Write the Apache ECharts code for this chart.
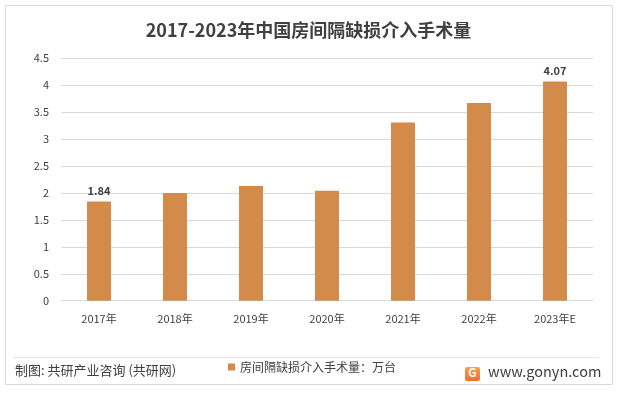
<!DOCTYPE html>
<html><head><meta charset="utf-8">
<script src="https://cdn.jsdelivr.net/npm/echarts@6/dist/echarts.min.js"></script>
<style>html,body{margin:0;padding:0;background:#fff}#c{width:617px;height:394px}</style>
</head><body><div id="c"></div>
<script>
const categories = ['2017年','2018年','2019年','2020年','2021年','2022年','2023年E'];
const values = [1.84, 2.00, 2.13, 2.04, 3.31, 3.67, 4.07];
const labelShown = [true, false, false, false, false, false, true];
const seriesName = '房间隔缺损介入手术量：万台';
const titleText = '2017-2023年中国房间隔缺损介入手术量';
const sourceText = '制图: 共研产业咨询 (共研网)';
const siteText = 'www.gonyn.com';

const FONT = '"Noto Sans CJK SC", "Noto Sans", sans-serif';
const chart = echarts.init(document.getElementById('c'), null, {renderer:'canvas'});
chart.setOption({
  animation:false,
  textStyle:{fontFamily:FONT},
  title:{text:titleText,left:'center',top:16,textStyle:{fontSize:18,fontWeight:'bold',color:'#404040',fontFamily:FONT}},
  grid:{left:61,right:24,top:58.3,bottom:93.3,containLabel:false},
  legend:{data:[seriesName],left:228,top:361,padding:0,itemWidth:7,itemHeight:7,itemGap:3,icon:'rect',
    textStyle:{fontSize:12,color:'#404040',fontFamily:FONT}},
  xAxis:{type:'category',data:categories,
    axisLine:{lineStyle:{color:'#d9d9d9'}},axisTick:{show:false},
    axisLabel:{fontSize:11,color:'#404040',margin:13,fontFamily:FONT}},
  yAxis:{type:'value',min:0,max:4.5,interval:0.5,
    axisLine:{show:false},axisTick:{show:false},
    splitLine:{lineStyle:{color:'#d9d9d9',width:1}},
    axisLabel:{fontSize:11,color:'#404040',margin:12,fontFamily:FONT}},
  series:[{name:seriesName,type:'bar',barWidth:24,
    itemStyle:{color:'#D38B4C'},
    data:values.map((v,i)=>({value:v,label:{show:labelShown[i],position:'top',fontSize:11,fontWeight:'bold',color:'#404040',formatter:()=>v.toFixed(2)}}))
  }],
  graphic:[
    {type:'rect',shape:{x:5.5,y:5.5,width:607,height:379},style:{fill:'none',stroke:'#d9d9d9',lineWidth:1},silent:true,z:-1},
    {type:'line',shape:{x1:13,y1:357.5,x2:599,y2:357.5},style:{stroke:'#e6e6e6',lineWidth:1}},
    {type:'text',left:15,top:364,style:{text:sourceText,fill:'#404040',font:'13px '+FONT}},
    {type:'rect',shape:{x:465,y:367,width:15,height:14,r:2},
      style:{fill:new echarts.graphic.LinearGradient(0,0,0,1,[{offset:0,color:'#F7A24B'},{offset:1,color:'#EE6B3B'}])}},
    {type:'text',left:468,top:366,style:{text:'G',fill:'#fff',font:'bold 12px '+FONT}},
    {type:'text',left:488,top:364,style:{text:siteText,fill:'#404040',font:'14.5px '+FONT}}
  ]
});
</script></body></html>
